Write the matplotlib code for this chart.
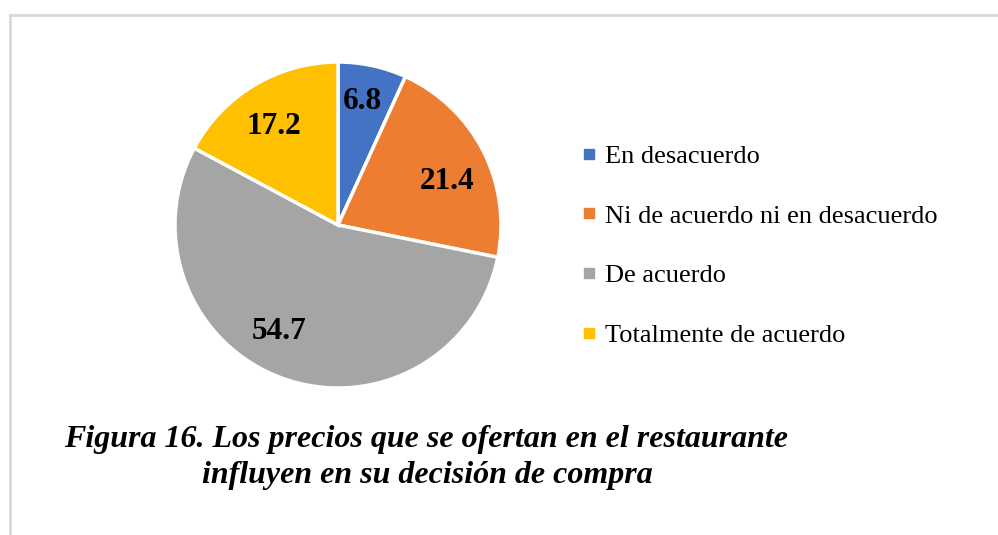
import numpy as np
import matplotlib.pyplot as plt
from matplotlib.lines import Line2D

# Chart data
categories = ['En desacuerdo', 'Ni de acuerdo ni en desacuerdo', 'De acuerdo', 'Totalmente de acuerdo']
values = [6.8, 21.4, 54.7, 17.2]
colors = ['#4472C4', '#ED7D31', '#A5A5A5', '#FFC000']
title_lines = ['Figura 16. Los precios que se ofertan en el restaurante',
               'influyen en su decisión de compra']

plt.rcParams['font.family'] = ['Liberation Serif', 'DejaVu Serif']

W, H = 998, 535
fig = plt.figure(figsize=(W / 100, H / 100), dpi=100)

# outer frame (top and left edges visible)
fig.add_artist(Line2D([10 / W, 1], [1 - 15 / H, 1 - 15 / H], color='#d9d9d9', lw=2))
fig.add_artist(Line2D([10 / W, 10 / W], [0, 1 - 15 / H], color='#d9d9d9', lw=2))

# pie axes: centre (338, 225), radius 163 px
cx, cy, r = 338, 225, 163
ax = fig.add_axes([(cx - r) / W, (H - cy - r) / H, 2 * r / W, 2 * r / H])
wedges, _ = ax.pie(values, colors=colors, startangle=90, counterclock=False,
                   wedgeprops=dict(edgecolor='white', linewidth=2.5))
ax.set_xlim(-1, 1)
ax.set_ylim(-1, 1)
ax.set_aspect('equal')
ax.axis('off')

# data labels, placed along each wedge's mid angle
label_dist = [0.79, 0.73, 0.73, 0.74]
angle_shift = [1.5, -4, -10, 1.3]
for w, v, d, s in zip(wedges, values, label_dist, angle_shift):
    ang = np.deg2rad((w.theta1 + w.theta2) / 2 + s)
    ax.text(d * np.cos(ang), d * np.sin(ang) - 0.02, f'{v:.1f}', ha='center', va='center',
            fontsize=22.5, fontweight='bold', color='black')

# legend
handles = [Line2D([], [], marker='s', linestyle='none', markersize=7,
                  markerfacecolor=c, markeredgecolor=c) for c in colors]
fig.legend(handles, categories, loc='upper left', bbox_to_anchor=(571 / W, 1 - 134 / H),
           frameon=False, fontsize=19, handlelength=0.6, handletextpad=0.3,
           labelspacing=1.37, borderaxespad=0)

# caption
fig.text(426 / W, 1 - 439 / H, title_lines[0], ha='center', va='center',
         fontsize=23, fontweight='bold', fontstyle='italic')
fig.text(427 / W, 1 - 476 / H, title_lines[1], ha='center', va='center',
         fontsize=23, fontweight='bold', fontstyle='italic')

fig.savefig('out.png', dpi=100, facecolor='white')
